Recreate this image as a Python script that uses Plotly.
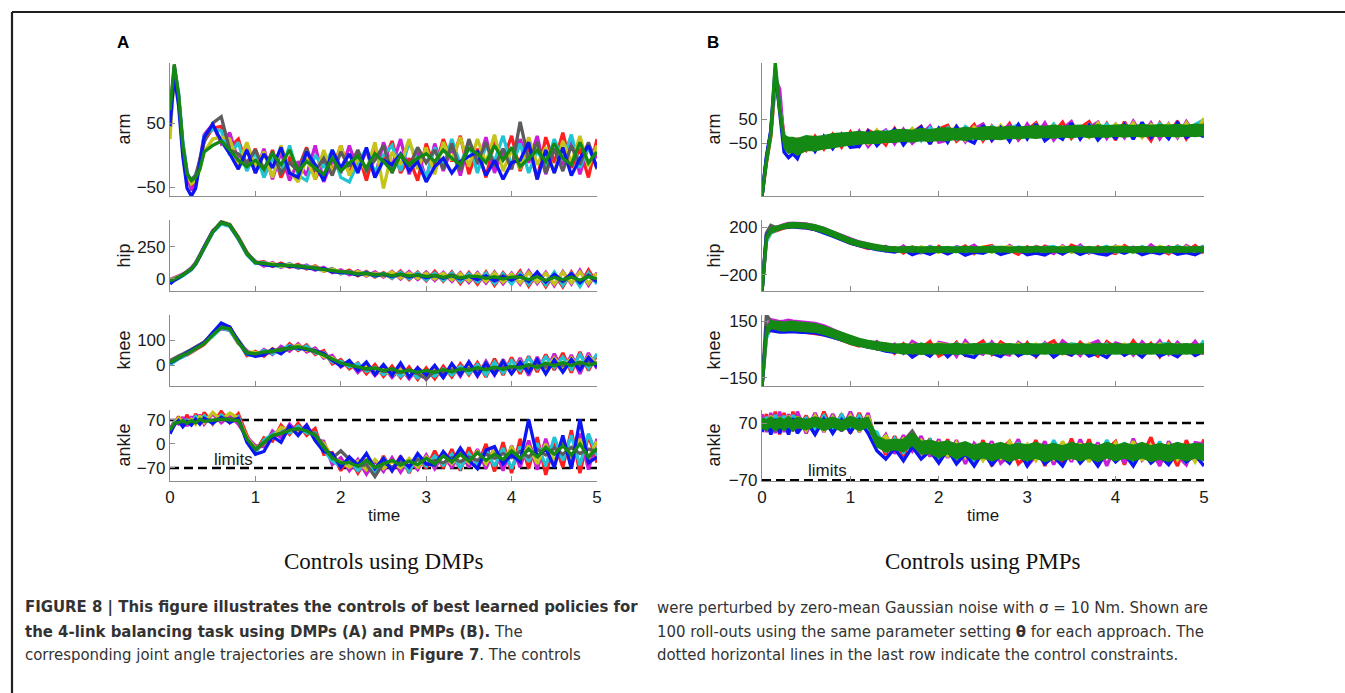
import plotly.graph_objects as go

W, H = 1345, 693

# time grid (s)
T = [0, 0.05, 0.1, 0.15, 0.2, 0.25, 0.3, 0.35, 0.4, 0.5,
     0.6, 0.7, 0.8, 0.9, 1.0, 1.1, 1.2, 1.3, 1.4, 1.5,
     1.6, 1.7, 1.8, 1.9, 2.0, 2.1, 2.2, 2.3, 2.4, 2.5,
     2.6, 2.7, 2.8, 2.9, 3.0, 3.1, 3.2, 3.3, 3.4, 3.5,
     3.6, 3.7, 3.8, 3.9, 4.0, 4.1, 4.2, 4.3, 4.4, 4.5,
     4.6, 4.7, 4.8, 4.9, 5.0]

ORDER = ["red", "magenta", "cyan", "yellow", "gray", "blue", "green"]
COLORS = {"red": "#ff1f1f", "magenta": "#c81ed8", "cyan": "#20c4d4",
          "yellow": "#c4c41a", "gray": "#5c5c5c", "blue": "#0c16f2",
          "green": "#148a14"}

# ---------------- Panel A (DMPs) ----------------
A_ARM = dict(
    red=[45, 128, 90, 12, -35, -50, -42, -12, 22, 42, 45, 12, 25, -18, 10, -30, 8, -35, -5, -22,
         12, -38, -8, -25, 15, -30, 5, -40, 10, -12, 22, -28, -5, -40, 18, -22, 25, -10, 30, -30,
         10, -35, 22, -8, 30, -25, 15, -38, 28, -12, 35, -20, 10, -35, 25],
    magenta=[65, 140, 95, 18, -25, -55, -48, -5, 32, 48, 18, 35, -10, 12, -28, 10, -38, 5, -40, -10,
             -32, 15, -42, -8, -28, 15, -25, 8, -35, 20, -18, 25, -30, 5, -38, 18, -25, 12, -32, 20,
             -15, 28, -28, 8, -22, 25, -12, 30, -30, 10, -15, 22, -30, 15, -5],
    cyan=[35, 136, 98, 22, -28, -42, -30, -15, 30, 40, 38, 0, 20, -25, 5, -35, -5, -28, 15, -32,
          -40, 0, -20, 8, -35, -42, -12, 10, -28, 0, 15, -25, 20, -10, -35, 12, -18, 25, -15, 20,
          -28, 15, -10, 30, -18, 18, -28, 8, -18, 25, -8, 32, -20, 12, -20],
    yellow=[25, 130, 85, 8, -32, -45, -40, -22, 5, 25, 28, 25, -15, 20, -20, 5, -35, 15, -25, -42,
            -5, -38, 8, -28, 15, -32, -5, -25, 20, -52, 5, -15, 25, -22, 12, -30, 20, -8, 28, -18,
            25, -12, 32, -25, 8, -22, 28, -15, 12, -28, 22, -12, 30, -18, 15],
    gray=[55, 135, 92, 15, -30, -38, -32, -8, 20, 50, 60, 8, 2, -12, 8, -22, 5, -28, -12, -25,
          10, -25, -5, -32, 5, -18, 8, -25, -8, 15, -28, 2, -18, 12, -12, 8, -22, 18, -25, 25,
          -12, 20, -18, 10, -22, 52, -8, 20, -28, 10, -25, 15, -15, 20, -22],
    blue=[45, 125, 78, -2, -52, -64, -52, -8, 28, 48, 22, 2, -22, 8, -28, 2, -20, 12, -28, -35,
          5, -15, -40, 8, -20, 2, -28, 12, -35, -8, -15, 2, -25, -10, -42, -18, -5, -28, -10, -2,
          5, -32, -8, -38, -12, -8, 20, -38, 8, -28, 12, -32, -5, 15, -20],
    green=[70, 142, 95, 15, -30, -40, -35, -22, 5, 15, 22, 8, -8, -18, -8, -22, 2, -15, 8, -25,
           -10, -20, -30, -5, -25, -12, -2, -20, 2, -10, -25, 0, -15, -5, 2, -10, 8, -5, -15, 10,
           2, -12, 15, -8, 12, -18, -5, 8, -10, 18, -5, -15, 20, -12, 5],
)

A_HIP = dict(
    red=[-25, -5, 10, 28, 50, 75, 115, 175, 245, 365, 445, 425, 330, 210, 125, 135, 98, 125, 92, 115,
         78, 102, 60, 82, 40, 70, 25, 60, 15, 50, 5, 62, -5, 55, -15, 60, -18, 55, -35, 50,
         -40, 55, -50, 48, -30, 62, -55, 45, -60, 40, -62, 55, -45, 70, -35],
    magenta=[-5, 10, 22, 38, 60, 88, 128, 188, 258, 378, 435, 415, 315, 195, 140, 100, 128, 90, 120, 85,
             108, 68, 92, 50, 72, 32, 65, 22, 55, 15, 60, 0, 58, -5, 55, -12, 52, -18, 50, -28,
             50, -32, 55, -38, 45, -40, 62, -35, 52, -52, 58, -40, 68, -48, 50],
    cyan=[-30, -15, 5, 25, 48, 72, 112, 172, 242, 362, 430, 410, 310, 190, 120, 128, 108, 95, 118, 88,
          102, 78, 68, 78, 42, 58, 35, 52, 20, 45, 8, 52, 2, 48, -8, 45, -12, 48, -22, 40,
          -25, 45, -35, 40, -40, 45, -42, 50, -48, 55, -50, 45, -58, 48, -40],
    yellow=[-10, 5, 18, 35, 58, 82, 122, 182, 252, 372, 450, 428, 325, 205, 135, 110, 122, 100, 112, 92,
            85, 98, 62, 75, 58, 42, 58, 28, 45, 22, 55, 8, 48, 5, 45, 0, 45, -8, 42, -15,
            42, -20, 48, -25, 38, -30, 50, -25, 45, -40, 52, -30, 55, -35, 45],
    gray=[-20, -8, 12, 32, 52, 78, 118, 178, 248, 368, 442, 418, 318, 198, 128, 122, 106, 115, 98, 108,
          92, 90, 78, 62, 52, 55, 40, 42, 35, 32, 25, 35, 22, 32, 18, 28, 10, 32, 5, 22,
          5, 22, 0, 25, -5, 20, -12, 25, -18, 18, -22, 25, -15, 30, -10],
    blue=[-40, -10, 8, 28, 54, 80, 120, 180, 250, 370, 445, 422, 322, 202, 132, 112, 102, 112, 98, 95,
          88, 78, 80, 55, 52, 45, 30, 48, 25, 38, 20, 38, 15, 32, 10, 28, 5, 25, 0, 22,
          -5, 25, -15, 18, -10, 28, -20, 55, -25, 35, -15, 40, -30, 25, -20],
    green=[-15, 2, 15, 30, 55, 80, 120, 180, 250, 370, 440, 420, 320, 200, 130, 118, 112, 108, 105, 100,
           92, 85, 75, 65, 57, 52, 38, 46, 30, 40, 25, 38, 22, 32, 18, 28, 12, 26, 8, 20,
           20, 5, 18, 0, 15, 15, -5, 18, -10, 12, -5, 15, -10, 18, 0],
)

A_KNEE = dict(
    red=[5, 15, 28, 35, 40, 50, 62, 72, 82, 118, 160, 152, 95, 38, 55, 35, 65, 48, 85, 58,
         80, 42, 58, 5, 22, -15, 8, -35, 2, -45, -5, -50, -8, -58, -12, -55, -5, -48, 5, -40,
         10, -48, 25, -40, 30, -35, 35, -28, 42, -20, 48, -30, 52, -22, 40],
    magenta=[15, 25, 35, 42, 50, 60, 70, 80, 90, 125, 145, 140, 85, 58, 35, 62, 42, 75, 55, 85,
             52, 68, 28, 38, -8, 15, -30, 2, -42, -8, -50, -12, -55, -10, -58, -12, -50, 2, -45, 12,
             -45, 15, -40, 22, -35, 28, -42, 32, -30, 45, -25, 40, -35, 48, -15],
    cyan=[0, 12, 25, 32, 42, 52, 64, 78, 88, 115, 148, 138, 92, 42, 38, 58, 45, 60, 78, 62,
          75, 48, 48, 12, 15, -8, 5, -25, -10, -38, -18, -45, -22, -52, -28, -45, -15, -40, -5, -35,
          2, -40, 12, -32, 18, -22, 28, -15, 32, -10, 32, -18, 42, -12, 45],
    yellow=[12, 22, 32, 40, 48, 58, 68, 76, 86, 122, 152, 146, 88, 52, 50, 42, 60, 52, 65, 80,
            58, 60, 32, 30, 0, 8, -18, -2, -32, -18, -40, -18, -46, -22, -48, -20, -42, -10, -38, 0,
            -35, 8, -30, 15, -25, 15, -30, 20, -18, 28, -12, 28, -18, 35, 5],
    gray=[18, 28, 36, 44, 52, 62, 72, 82, 92, 128, 155, 142, 100, 52, 42, 48, 52, 66, 64, 72,
          62, 52, 42, 18, 5, 2, -12, -18, -15, -25, -25, -30, -22, -35, -55, -25, -30, -20, -25, -15,
          -20, -10, -18, -5, -12, -2, -10, 5, -8, 10, -2, 12, 0, 15, 5],
    blue=[8, 18, 28, 36, 45, 55, 65, 75, 88, 130, 168, 152, 95, 45, 35, 40, 62, 45, 72, 68,
          62, 58, 45, 18, -5, 18, -22, 12, -38, 2, -42, 8, -48, -12, -40, -2, -50, 5, -40, 12,
          -42, 8, -38, 15, -35, 12, -30, 22, -35, 20, -28, 22, -20, 30, -8],
    green=[10, 20, 30, 38, 45, 55, 65, 75, 85, 120, 150, 145, 90, 48, 45, 52, 55, 60, 68, 72,
           65, 55, 40, 25, 8, 0, -8, -15, -12, -22, -15, -28, -20, -30, -22, -30, -18, -28, -15, -22,
           -10, -20, -8, -18, -5, -12, 2, -10, 8, -3, 10, -2, 12, 0, 8],
)

A_ANKLE = dict(
    red=[35, 55, 80, 58, 85, 55, 88, 62, 92, 58, 95, 62, 88, 25, -22, 18, 8, 55, 28, 60,
         25, 45, -30, -25, -78, -40, -85, -45, -92, -35, -78, -35, -85, -30, -72, -20, -70, -15, -78, -10,
         -65, 0, -80, 5, -85, 15, -72, 20, -90, 5, -68, 40, -85, 25, -55],
    magenta=[45, 65, 58, 78, 52, 80, 60, 85, 58, 88, 62, 82, 58, 20, -5, -8, 38, 18, 58, 32,
             55, 12, 8, -60, -40, -78, -45, -88, -50, -80, -40, -82, -45, -75, -32, -72, -28, -70, -22, -68,
             -15, -72, -10, -78, -5, -68, 10, -75, 15, -62, 20, -68, 30, -75, 15],
    cyan=[38, 62, 72, 58, 70, 60, 80, 62, 82, 60, 85, 68, 80, 10, -28, 12, 28, 42, 32, 52,
          32, 32, -18, -50, -65, -48, -78, -50, -85, -42, -72, -42, -80, -38, -65, -35, -62, -30, -70, -28,
          -58, -18, -65, -12, -72, -8, -52, 2, -65, 20, -48, 25, -62, 30, -35],
    yellow=[42, 58, 75, 68, 60, 72, 58, 82, 62, 92, 70, 90, 75, 18, -12, 0, 18, 48, 40, 35,
            48, 18, 2, -38, -52, -68, -50, -75, -45, -72, -50, -70, -42, -68, -38, -62, -32, -58, -30, -55,
            -22, -58, -15, -52, -10, -48, -5, -58, 0, -52, 5, -48, 15, -42, 8],
    gray=[40, 58, 68, 62, 65, 62, 70, 68, 72, 68, 75, 74, 72, 12, -18, 2, 22, 32, 45, 42,
          42, 28, -5, -42, -20, -45, -65, -60, -95, -55, -68, -52, -65, -45, -58, -48, -55, -40, -52, -38,
          -48, -30, -42, -28, -40, -22, -38, -15, -32, -12, -30, -10, -28, -15, -22],
    blue=[30, 55, 68, 50, 65, 55, 72, 58, 75, 60, 78, 62, 75, 5, -30, -22, 22, 5, 52, 25,
          55, 10, -22, -28, -68, -38, -62, -28, -72, -42, -78, -38, -68, -28, -58, -62, -22, -52, -12, -48,
          -72, -18, -8, -58, -32, -52, 72, -38, -12, -68, 25, -72, 72, -55, -38],
    green=[40, 60, 62, 68, 60, 68, 62, 72, 66, 70, 72, 70, 68, 15, -15, 5, 25, 30, 40, 45,
           38, 25, -10, -40, -55, -55, -65, -48, -68, -58, -48, -62, -50, -60, -42, -58, -35, -52, -30, -50,
           -25, -48, -30, -45, -20, -42, -15, -38, -10, -30, -5, -32, 0, -38, -12],
)

# ---------------- Panel B (PMPs) ----------------
B_ARM = dict(
    red=[-267, -130, -20, 200, 120, -20, -45, -85, -28, -78, -20, -72, -12, -65, -2, -60, 5, -15, -55, 12,
         -45, -5, 20, -50, 10, 25, -40, -10, 28, -38, 22, -15, 32, -35, 5, 35, -30, -5, 38, -28,
         15, 40, -25, 32, -35, 40, -20, 10, -38, 35, -15, 42, -30, 20, 45],
    magenta=[-267, -110, 0, 220, 175, -58, -75, -28, -88, -35, -78, -25, -68, -15, -62, 0, -62, -20, 5, -50,
             8, -48, -15, 22, -45, -35, 18, -42, 10, 30, -38, 5, 25, -32, 30, -20, 35, -35, 10, 40,
             -30, 15, 38, -28, 28, -25, 42, -15, 35, -30, 30, -25, 40, -10, 35],
    cyan=[-267, -115, -5, 230, 110, -48, -62, -48, -70, -40, -60, -35, -55, -25, -45, -45, -10, -50, 0, -35,
          -20, 10, -38, 15, -28, 15, -30, 20, -5, -32, 20, -25, 10, 28, -20, 25, -15, 30, -22, 18,
          -18, 28, -5, 30, -20, 30, -12, 25, -20, 32, -10, 30, -15, 28, 48],
    yellow=[-267, -125, -15, 225, 95, -32, -52, -42, -65, -30, -65, -32, -58, -22, -50, -20, -50, 5, -42, -12,
            -38, 12, -25, -42, 15, -20, 22, -35, 18, -8, -28, 25, -12, 22, -25, 28, -10, 22, -30, 30,
            5, -25, 35, -12, 30, -15, 35, -25, 28, 5, 30, -20, 35, -12, 55],
    gray=[-267, -118, -8, 235, 100, -45, -58, -62, -50, -55, -48, -52, -36, -42, -25, -35, -18, -32, -15, -28,
          -8, -25, -10, -22, -5, -20, -2, -18, 0, -15, 2, -14, 5, -12, 6, -10, 8, -8, 10, -6,
          10, -6, 12, -5, 10, -4, 12, -2, 14, 0, 12, -2, 14, 0, 10],
    blue=[-267, -105, 5, 262, 80, -85, -108, -92, -112, -25, -82, -20, -70, -12, -65, -62, 0, -58, -20, 8,
          -55, -10, 18, -52, 12, -45, 20, -30, -48, 25, -35, 15, -40, 28, -30, 30, -38, -10, -32, 35,
          -30, 25, -35, 5, -28, 28, -32, 38, -25, 10, -30, 35, -25, -5, -22],
    green=[-267, -120, -10, 283, 90, -40, -55, -50, -62, -45, -50, -42, -45, -32, -35, -20, -35, -15, -30, -10,
           -25, -8, -28, -5, -20, 0, -18, 5, -15, 2, -12, 8, -15, 10, -5, 12, -10, 15, -5, 18,
           -5, 15, -8, 18, 0, 15, -5, 20, -2, 12, -5, 18, 0, 20, 8],
    band_hi=[-267, -100, 10, 270, 110, -15, -25, -25, -30, -18, -22, -18, -10, -8, -4, 0, -4, 2, -1, 6,
             8, 4, 12, 6, 13, 14, 10, 16, 11, 18, 19, 15, 21, 17, 22, 24, 20, 26, 21, 25,
             26, 22, 28, 23, 27, 28, 24, 29, 25, 28, 26, 29, 25, 30, 28],
    band_lo=[-267, -140, -30, 220, 70, -68, -90, -85, -98, -78, -80, -72, -68, -60, -55, -52, -48, -50, -44, -45,
             -40, -44, -38, -41, -36, -38, -32, -36, -30, -34, -30, -33, -27, -30, -25, -28, -24, -27, -22, -26,
             -20, -25, -21, -24, -19, -23, -19, -22, -18, -21, -19, -22, -18, -21, -17],
)

B_HIP = dict(
    red=[-339, 90, 155, 170, 185, 195, 200, 205, 200, 195, 180, 160, 130, 95, 65, 45, 20, 45, 0, 28,
         -18, 32, 10, -25, 38, -15, 5, 42, -22, 30, 45, -20, 8, -28, 35, -10, 40, 15, -25, 48,
         20, -18, 35, -5, -22, 45, 0, -20, 38, 12, -25, 40, -5, 45, -18],
    magenta=[-339, 120, 180, 195, 210, 222, 232, 235, 232, 228, 212, 190, 158, 128, 98, 75, 58, 12, 38, -5,
             42, -10, -15, 38, 5, -20, 35, 12, 48, -12, 30, -15, 45, -5, -18, 38, 10, -22, 42, -8,
             48, -15, 25, -20, 40, -12, 30, -18, 50, -5, 35, -20, 45, 5, 40],
    cyan=[-339, 80, 150, 175, 192, 205, 212, 215, 215, 208, 195, 172, 140, 108, 80, 58, 40, 28, 10, 18,
          0, 28, -12, 35, 15, -10, 30, -5, 22, -12, 35, 0, -10, 32, 18, -8, 28, 38, -5, 20,
          32, -10, 15, 38, -8, 10, -12, 35, -2, 30, -10, 38, 12, -5, 42],
    yellow=[-339, 100, 165, 182, 205, 215, 222, 225, 222, 218, 202, 180, 150, 118, 88, 65, 48, 32, 20, 8,
            25, -8, 35, 10, -12, 30, -5, 20, -15, 35, -10, 28, 35, -5, 15, 32, -12, 5, 35, -10,
            -5, 30, -15, 22, 35, 30, -10, 12, -15, 38, 15, -12, 35, -5, 28],
    gray=[-339, 150, 215, 200, 198, 210, 215, 218, 216, 212, 198, 175, 145, 112, 82, 60, 42, 28, 18, 12,
          8, 15, 2, 18, 5, 15, 2, 18, 5, 15, 2, 18, 5, 15, 8, 18, 5, 15, 2, 18,
          5, 15, 8, 18, 2, 15, 5, 18, 8, 15, 5, 18, 8, 15, 5],
    blue=[-339, 130, 175, 185, 195, 198, 202, 205, 200, 195, 180, 155, 125, 95, 65, 45, 25, 12, 0, -10,
          12, -32, -5, -28, 8, -25, 5, -35, -10, -20, 10, -30, -8, 15, -32, -18, -35, 5, -25, 12,
          -30, 0, -22, -35, 5, -20, 10, -32, -8, -25, 8, -28, -15, -32, 5],
    green=[-339, 110, 170, 185, 200, 210, 215, 220, 218, 212, 198, 175, 145, 112, 82, 60, 42, 30, 20, 12,
           20, 0, 22, 2, 18, 0, 20, -2, 18, 5, 20, 2, 18, 0, 22, 2, 18, 0, 20, 5,
           18, 2, 22, 0, 20, 5, 18, 2, 20, 0, 22, 5, 18, 2, 20],
    band_hi=[-339, 130, 195, 205, 220, 230, 235, 240, 238, 232, 220, 198, 168, 135, 105, 82, 65, 52, 40, 32,
             32, 38, 30, 36, 33, 36, 30, 37, 32, 35, 33, 37, 30, 36, 32, 37, 32, 36, 30, 37,
             32, 36, 30, 37, 33, 36, 32, 37, 30, 36, 32, 37, 33, 36, 34],
    band_lo=[-339, 90, 150, 165, 180, 190, 195, 198, 196, 192, 175, 152, 122, 90, 60, 38, 20, 8, 0, -8,
             -12, -6, -14, -8, -12, -8, -14, -6, -12, -8, -14, -6, -12, -8, -14, -6, -12, -8, -14, -6,
             -12, -8, -14, -6, -12, -8, -14, -6, -12, -8, -14, -8, -12, -6, -12],
)

B_KNEE = dict(
    red=[-194, 70, 110, 105, 95, 100, 95, 105, 98, 92, 88, 78, 68, 48, 32, 18, 38, 2, 28, -20,
         30, -28, 5, 42, -35, -10, 38, -30, 15, 45, -25, 40, 10, -32, 35, -38, 20, 45, -15, -30,
         38, -5, -35, 42, 10, -28, 45, -12, 32, -38, 40, -20, 5, 38, -25],
    magenta=[-194, 100, 158, 152, 148, 150, 155, 150, 148, 145, 138, 125, 105, 85, 65, 52, 12, 42, -5, 28,
             -20, 42, 15, -30, 38, 28, -35, 45, -8, -25, 40, -18, -30, 38, 5, -15, 35, -28, 45, 10,
             -32, 25, 45, -15, 35, 20, -30, 40, -10, 45, -25, 38, -12, 42, -20],
    cyan=[-194, 60, 125, 120, 118, 115, 118, 120, 115, 112, 108, 95, 82, 65, 48, 35, 25, 15, 8, 2,
          18, -12, 28, -22, 5, -15, 30, 0, -20, 25, 28, -8, 20, -25, 15, -12, 28, -20, 10, 30,
          22, -18, 5, 30, -15, -20, 25, 10, -15, 28, 30, -10, 22, -18, 48],
    yellow=[-194, 80, 140, 135, 130, 130, 135, 135, 130, 128, 122, 110, 92, 75, 55, 42, 30, 22, 12, 8,
            -8, 25, -20, 15, 30, 22, -18, 30, 5, -15, -12, 25, -5, 30, -20, 28, -5, 15, -22, 25,
            -10, 30, -18, 20, -5, 28, -15, 22, -8, 30, -18, 25, 5, -12, 20],
    gray=[-194, 183, 150, 130, 125, 125, 128, 128, 125, 122, 115, 102, 88, 70, 52, 40, 30, 20, 12, 6,
          5, 2, 6, 1, 5, 3, 6, 2, 5, 1, 6, 2, 5, 3, 6, 2, 5, 1, 6, 3,
          5, 2, 6, 3, 5, 2, 6, 3, 5, 1, 6, 3, 5, 2, 5],
    blue=[-194, 110, 100, 95, 92, 92, 95, 95, 92, 90, 88, 78, 66, 52, 38, 25, 12, 5, -8, -15,
          5, -40, -10, -35, 12, -38, 2, -30, -42, 8, -20, -38, 5, -32, -12, -35, 10, -40, -8, -30,
          5, -35, -18, -42, 8, -30, -5, -40, 10, -35, -15, -38, 5, -32, -8],
    green=[-194, 90, 132, 128, 122, 122, 125, 125, 122, 120, 114, 102, 86, 68, 50, 38, 28, 18, 10, 5,
           15, -8, 18, -5, 12, -10, 15, -5, 18, -8, 15, -10, 12, -5, 18, -8, 15, -10, 12, -5,
           18, -8, 15, -10, 12, -5, 18, -8, 15, -10, 12, -5, 18, -8, 10],
    band_hi=[-194, 115, 152, 150, 145, 145, 148, 150, 146, 142, 136, 124, 108, 90, 72, 58, 48, 40, 32, 28,
             30, 26, 32, 28, 30, 28, 32, 26, 30, 28, 32, 28, 30, 26, 32, 28, 30, 26, 32, 28,
             30, 26, 32, 28, 30, 26, 32, 28, 30, 26, 32, 28, 30, 26, 30],
    band_lo=[-194, 70, 112, 108, 100, 98, 102, 100, 98, 96, 92, 80, 64, 46, 28, 18, 8, -2, -10, -15,
             -24, -20, -26, -22, -24, -20, -26, -22, -24, -20, -26, -22, -24, -20, -26, -22, -24, -20, -26, -22,
             -24, -20, -26, -22, -24, -20, -26, -22, -24, -20, -26, -22, -24, -20, -22],
)

B_ANKLE = dict(
    red=[55, 92, 48, 98, 42, 95, 45, 98, 52, 88, 42, 98, 50, 92, 45, 95, 48, 42, -8, 38,
         -12, 42, -8, 32, -25, 30, -25, 12, -32, 28, -35, 5, 25, -30, -10, 28, -35, 15, -28, 32,
         -20, 30, -35, 5, 25, -32, 20, -10, 35, -28, 10, -35, 28, -22, 30],
    magenta=[92, 48, 95, 45, 98, 48, 92, 50, 98, 45, 95, 48, 92, 50, 98, 48, 95, 12, 42, -5,
             40, 2, 38, -12, 30, -15, 28, -30, 20, -5, 25, -28, -8, 30, -35, -10, 25, -32, 20, -25,
             30, -15, 22, -35, 15, -28, 32, -20, 8, -35, 25, -10, -32, 22, 18],
    cyan=[60, 85, 55, 90, 58, 88, 55, 90, 60, 82, 55, 88, 52, 90, 58, 88, 55, 48, 2, 32,
          -2, 38, -2, 28, -18, 25, -20, 18, -25, 10, -28, 20, -15, 22, -25, 18, -22, 28, -12, 20,
          -25, 15, -20, 28, -10, 22, -28, 15, -18, 25, -22, 18, -28, 12, -20],
    yellow=[82, 55, 88, 52, 85, 52, 88, 55, 85, 52, 88, 52, 85, 55, 88, 52, 88, 18, 38, 8,
            32, 12, 28, -2, 22, -10, 22, -15, 12, -22, 15, -15, 25, -5, 18, -22, 10, -18, 25, -15,
            20, -25, 12, -12, 22, -15, 25, -22, 15, -8, 18, -20, 10, -25, 15],
    gray=[68, 72, 65, 70, 68, 72, 66, 70, 72, 66, 70, 72, 66, 70, 72, 66, 72, 30, 20, 15,
          25, 50, 15, 10, 5, 8, 0, 5, -2, 0, 2, -5, 0, -6, -2, -5, 0, -6, -2, -5,
          0, -5, -2, -6, 0, -5, -2, -6, 0, -4, -2, -6, 0, -4, -2],
    blue=[48, 78, 42, 80, 45, 78, 42, 82, 45, 75, 42, 80, 45, 78, 48, 78, 45, 2, -18, 8,
          -22, 12, -18, 2, -28, 5, -30, -5, -35, 0, -32, -8, -28, 5, -35, 0, -30, -12, -35, 5,
          -28, -5, -35, 0, -25, -5, -35, 2, -28, -10, -32, 0, -25, -8, -35],
    green=[70, 62, 78, 60, 75, 62, 78, 60, 75, 62, 78, 62, 75, 60, 78, 62, 75, 28, 15, 20,
           12, 35, 8, 15, 2, 15, -5, 12, -8, 10, -10, 8, -12, 5, -8, 8, -10, 5, -12, 10,
           -8, 5, -10, 8, -12, 5, -8, 10, -10, 5, -10, 8, -5, 10, -8],
    band_hi=[82, 78, 85, 76, 84, 78, 86, 76, 84, 78, 85, 78, 84, 76, 86, 78, 84, 38, 28, 30,
             30, 45, 25, 28, 22, 26, 18, 24, 15, 22, 16, 22, 15, 20, 16, 22, 15, 20, 14, 22,
             16, 21, 14, 22, 15, 21, 15, 22, 14, 20, 15, 22, 16, 20, 18],
    band_lo=[58, 52, 62, 50, 60, 52, 62, 50, 60, 54, 62, 52, 60, 50, 62, 52, 60, 12, 0, 5,
             0, 15, -5, -5, -15, -5, -18, -8, -20, -15, -22, -15, -24, -16, -22, -16, -24, -18, -22, -16,
             -22, -16, -24, -15, -22, -16, -22, -15, -24, -18, -24, -16, -22, -15, -22],
)

LIMITS = [-70, 70]
X_TICKS = [0, 1, 2, 3, 4, 5]

# (column, label, data, y-range, y-ticks)
PANELS = [
    ("A", "arm", A_ARM, [-64, 144], [-50, 50]),
    ("A", "hip", A_HIP, [-94, 461], [0, 250]),
    ("A", "knee", A_KNEE, [-84, 200], [0, 100]),
    ("A", "ankle", A_ANKLE, [-108, 99], [-70, 0, 70]),
    ("B", "arm", B_ARM, [-267, 283], [-50, 50]),
    ("B", "hip", B_HIP, [-339, 261], [-200, 200]),
    ("B", "knee", B_KNEE, [-194, 183], [-150, 150]),
    ("B", "ankle", B_ANKLE, [-72, 102], [-70, 70]),
]

# layout geometry (pixels)
X_PX = {"A": (170, 597), "B": (762, 1204)}
ROW_PX = [(63, 196), (220, 291), (315, 386), (410, 481)]
YLABEL_X = {"A": 123, "B": 713}

AX_COL = "#8c8c8c"
TXT = "#1a1a1a"
SANS = "Liberation Sans, Arial, Helvetica, sans-serif"

fig = go.Figure()
layout = dict(width=W, height=H, margin=dict(l=0, r=0, t=0, b=0, autoexpand=False),
              paper_bgcolor="white", plot_bgcolor="white", showlegend=False)
annotations = []
shapes = []

for i, (col, lab, data, yr, yt) in enumerate(PANELS):
    n = i + 1
    row = i % 4
    xa = "x" if n == 1 else f"x{n}"
    ya = "y" if n == 1 else f"y{n}"
    x0, x1 = X_PX[col]
    ytop, ybot = ROW_PX[row]
    xdom = [x0 / W, x1 / W]
    ydom = [1 - ybot / H, 1 - ytop / H]
    bottom = row == 3
    lw = 3.3 if col == "A" else 3.4

    if lab == "ankle":
        for lim in LIMITS:
            fig.add_trace(go.Scatter(x=[X_TICKS[0], X_TICKS[-1]], y=[lim, lim], mode="lines",
                                     line=dict(color="black", width=2.6, dash="9px,5px"),
                                     xaxis=xa, yaxis=ya, hoverinfo="skip"))
    for c in ORDER:
        if c == "green" and "band_hi" in data:
            hi, lo = data["band_hi"], data["band_lo"]
            fig.add_trace(go.Scatter(x=T[:len(hi)] + T[:len(lo)][::-1], y=hi + lo[::-1],
                                     mode="lines", fill="toself", fillcolor=COLORS["green"],
                                     line=dict(color=COLORS["green"], width=1.5),
                                     xaxis=xa, yaxis=ya, hoverinfo="skip"))
        v = data[c]
        fig.add_trace(go.Scatter(x=T[:len(v)], y=v, mode="lines",
                                 line=dict(color=COLORS[c], width=lw),
                                 xaxis=xa, yaxis=ya, hoverinfo="skip"))

    layout["xaxis" if n == 1 else f"xaxis{n}"] = dict(
        domain=xdom, anchor=ya, range=[0, 5], tickvals=X_TICKS, automargin=False,
        showticklabels=bottom, ticks="inside", ticklen=5, tickcolor=AX_COL,
        showline=True, linecolor=AX_COL, linewidth=1.2, showgrid=False, zeroline=False,
        tickfont=dict(family=SANS, size=17, color=TXT))
    layout["yaxis" if n == 1 else f"yaxis{n}"] = dict(
        domain=ydom, anchor=xa, range=yr, tickvals=yt, automargin=False,
        ticks="inside", ticklen=5, tickcolor=AX_COL,
        showline=True, linecolor=AX_COL, linewidth=1.2, showgrid=False, zeroline=False,
        tickfont=dict(family=SANS, size=17, color=TXT))

    annotations.append(dict(text=lab, x=YLABEL_X[col] / W, y=1 - (ytop + ybot) / 2 / H,
                            xref="paper", yref="paper", textangle=-90, showarrow=False,
                            xanchor="center", yanchor="middle",
                            font=dict(family=SANS, size=18, color=TXT)))

# time labels, limits labels, panel letters
for col in ["A", "B"]:
    x0, x1 = X_PX[col]
    annotations.append(dict(text="time", x=(x0 + x1) / 2 / W, y=1 - 515 / H, xref="paper", yref="paper",
                            showarrow=False, xanchor="center", yanchor="middle",
                            font=dict(family=SANS, size=17, color=TXT)))
annotations.append(dict(text="limits", x=233 / W, y=1 - 459 / H, xref="paper", yref="paper",
                        showarrow=False, xanchor="center", yanchor="middle",
                        font=dict(family=SANS, size=17, color=TXT)))
annotations.append(dict(text="limits", x=827 / W, y=1 - 470 / H, xref="paper", yref="paper",
                        showarrow=False, xanchor="center", yanchor="middle",
                        font=dict(family=SANS, size=17, color=TXT)))
annotations.append(dict(text="<b>A</b>", x=123 / W, y=1 - 43 / H, xref="paper", yref="paper",
                        showarrow=False, xanchor="center", yanchor="middle",
                        font=dict(family=SANS, size=17, color="black")))
annotations.append(dict(text="<b>B</b>", x=713 / W, y=1 - 43 / H, xref="paper", yref="paper",
                        showarrow=False, xanchor="center", yanchor="middle",
                        font=dict(family=SANS, size=17, color="black")))

# sub-captions
SERIF = "Liberation Serif, Times New Roman, serif"
annotations.append(dict(text="Controls using DMPs", x=383 / W, y=1 - 561 / H, xref="paper", yref="paper",
                        showarrow=False, xanchor="center", yanchor="middle",
                        font=dict(family=SERIF, size=23, color="#111")))
annotations.append(dict(text="Controls using PMPs", x=983 / W, y=1 - 561 / H, xref="paper", yref="paper",
                        showarrow=False, xanchor="center", yanchor="middle",
                        font=dict(family=SERIF, size=23, color="#111")))

# figure caption
NARROW = "Liberation Sans Narrow, Arial Narrow, DejaVu Sans Condensed, sans-serif"
CAP_LEFT = [
    "<b>FIGURE 8 | This figure illustrates the controls of best learned policies for</b>",
    "<b>the 4-link balancing task using DMPs (A) and PMPs (B).</b> The",
    "corresponding joint angle trajectories are shown in <b>Figure 7</b>. The controls",
]
CAP_RIGHT = [
    "were perturbed by zero-mean Gaussian noise with σ = 10 Nm. Shown are",
    "100 roll-outs using the same parameter setting <b>θ</b> for each approach. The",
    "dotted horizontal lines in the last row indicate the control constraints.",
]
CAP_Y = [607, 631, 654]
for lines, xl in [(CAP_LEFT, 23), (CAP_RIGHT, 655)]:
    for txt, yy in zip(lines, CAP_Y):
        annotations.append(dict(text=txt, x=xl / W, y=1 - yy / H, xref="paper", yref="paper",
                                showarrow=False, xanchor="left", yanchor="middle",
                                font=dict(family=NARROW, size=16.6, color="#333")))

# outer frame (top and left rule)
shapes.append(dict(type="line", xref="paper", yref="paper", x0=12 / W, x1=1, y0=1 - 12 / H, y1=1 - 12 / H,
                   line=dict(color="#231f20", width=2.2)))
shapes.append(dict(type="line", xref="paper", yref="paper", x0=12 / W, x1=12 / W, y0=1 - 12 / H, y1=0,
                   line=dict(color="#231f20", width=2.2)))

layout["annotations"] = annotations
layout["shapes"] = shapes
fig.update_layout(**layout)
fig.write_html("out.html", config={"displayModeBar": False},
               post_script="document.body.style.margin='0px';")
